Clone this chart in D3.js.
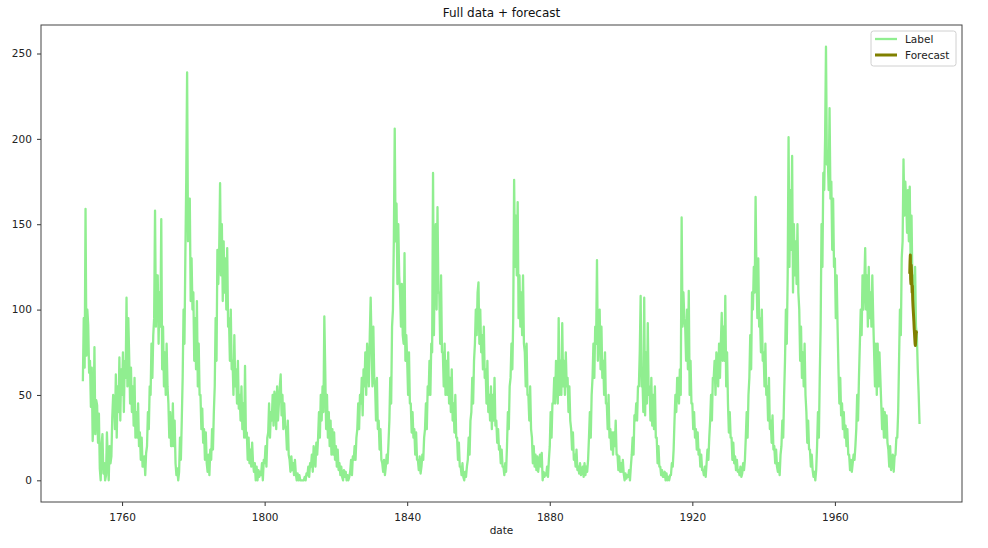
<!DOCTYPE html>
<html>
<head>
<meta charset="utf-8">
<script src="https://cdn.jsdelivr.net/npm/d3@7"></script>
<style>
  body { margin: 0; background: #fff; }
  svg { font-family: 'DejaVu Sans', sans-serif; }
</style>
</head>
<body>
<div id="chart"></div>
<script>
'use strict';

var startYear = 1749;
var perYear = 4;

var spots1749 = [
  58,95,66,159, 73,100,91,63, 70,43,66,23, 35,78,27,47, 44,22,39,7,
  0,21,27,4, 10,0,3,28, 12,0,20,10, 14,37,50,48, 30,62,25,55,
  40,72,35,65, 50,75,40,70, 60,107,55,95, 72,45,66,40, 55,32,60,25,
  40,25,45,20, 28,12,25,8, 8,14,3,16, 20,40,30,55, 50,80,60,85,
  95,158,90,120, 120,80,110,90, 153,65,90,55, 75,50,80,55, 45,25,40,20,
  20,45,20,35, 10,3,7,0, 5,25,12,35, 60,100,80,130, 175,239,140,165,
  165,105,130,100, 110,70,95,65, 105,55,80,50, 50,30,42,22, 30,12,28,10,
  5,15,3,18, 12,30,18,40, 55,95,70,135, 115,135,174,120, 150,105,140,110,
  130,100,136,90, 95,70,100,65, 70,50,85,55, 65,45,70,42, 50,35,55,30,
  45,25,67,25, 28,12,25,10, 18,8,22,10, 5,10,0,8, 0,6,2,5, 3,10,0,12
];

var spots1800 = [
  10,20,8,25, 28,45,25,40, 35,50,32,52, 48,30,55,35, 45,55,62,38,
  50,30,45,32, 30,18,35,15, 12,5,14,6, 10,3,12,4, 0,4,0,3,
  0,0,0,0, 0,2,0,4, 3,8,2,10, 8,15,5,20, 15,8,22,15,
  25,40,25,50, 35,55,40,96, 65,30,50,25, 40,20,35,15, 30,15,28,12,
  20,8,18,6, 10,3,8,2, 0,6,2,5, 0,3,0,2, 5,12,3,14,
  12,20,12,25, 30,45,30,50, 45,60,38,65, 55,75,50,80, 70,55,85,107,
  80,55,90,60, 55,35,60,30, 35,18,30,12, 10,5,12,3, 8,15,10,22,
  35,60,45,90, 100,140,206,140, 162,115,150,120, 110,90,115,85, 80,133,70,85,
  70,50,75,45, 45,28,40,25, 30,15,28,12, 12,6,14,4, 8,15,12,25,
  30,45,30,55, 50,70,50,80, 75,180,85,135, 150,100,160,110, 110,80,120,75
];

var spots1850 = [
  75,55,80,50, 70,50,75,45, 60,40,65,35, 45,28,50,25, 25,12,22,8,
  8,3,10,2, 0,5,2,8, 12,25,15,35, 40,60,45,70, 80,100,85,110,
  116,80,100,75, 85,65,90,60, 65,45,70,40, 50,35,55,30, 50,35,60,32,
  35,22,30,18, 20,10,18,8, 8,3,10,5, 20,40,30,55, 60,80,65,95,
  176,125,155,120, 163,95,120,90, 110,85,120,80, 75,55,80,50, 50,35,55,30,
  25,10,20,8, 15,6,14,5, 10,15,8,16, 0,5,2,4, 3,8,2,12,
  20,40,25,45, 45,60,45,70, 60,45,95,50, 70,50,92,55, 70,50,75,55,
  60,40,55,35, 30,18,28,12, 15,8,18,6, 8,4,10,3, 5,8,2,10,
  3,8,5,12, 25,40,25,50, 60,80,60,90, 80,129,70,95, 100,65,90,60,
  70,50,75,45, 45,30,50,25, 30,18,28,15, 28,20,35,15, 15,6,14,5
];

var spots1900 = [
  10,5,12,4, 0,4,1,3, 2,6,0,8, 15,25,15,38, 35,45,35,55,
  55,75,108,55, 60,40,107,38, 75,45,92,50, 55,35,60,32, 50,30,55,25,
  25,10,20,8, 8,3,6,2, 2,5,0,4, 0,2,0,3, 3,10,8,18,
  35,50,40,60, 60,45,65,50, 154,90,110,95, 90,70,100,65, 111,50,70,45,
  45,30,40,25, 30,18,28,15, 18,8,15,6, 6,3,8,2, 10,18,12,25,
  35,50,35,60, 60,70,50,75, 70,55,80,60, 80,98,70,90, 70,108,55,75,
  45,28,40,25, 25,12,22,10, 14,6,12,5, 6,3,8,2, 4,10,6,12,
  25,40,25,50, 60,85,65,110, 100,125,110,166, 120,95,130,90, 95,75,100,70,
  75,55,80,50, 55,35,60,30, 35,22,38,18, 20,10,18,8, 5,10,3,15,
  20,35,25,50, 70,100,80,120, 201,125,170,135, 190,110,150,120, 140,115,150,110
];

var spots1950 = [
  100,70,90,60, 75,55,80,50, 40,22,35,18, 18,8,15,6, 2,5,0,6,
  20,40,25,60, 90,150,125,180, 170,200,254,185, 190,170,218,165, 175,135,165,125,
  130,95,120,90, 65,45,60,38, 45,30,40,25, 32,20,30,15, 15,6,12,5,
  10,15,12,20, 30,50,35,60, 80,100,85,120, 100,115,136,100, 120,90,125,95,
  110,90,120,95, 75,55,80,50, 80,55,75,60, 45,30,42,25, 40,25,38,22,
  18,8,20,6, 10,15,5,14, 15,25,25,40, 70,100,85,130, 140,188,155,175,
  165,145,170,140, 172,125,155,115, 120,95,125,90, 85,65,51,33
];

// monthly forecast from January 1981
var forecastStart = 1981;
var forecastValues = [
  121,128,132,118,115,126,122,117,110,114,106,102,
  99,96,93,89,86,83,80,79,82,85,87,86
];

var xTicks = [1760, 1800, 1840, 1880, 1920, 1960];
var yTicks = [0, 50, 100, 150, 200, 250];
var seriesNames = ['Label', 'Forecast'];
var seriesColors = ['#90ee90', '#808000'];
var seriesWidths = [2.3, 3];

var width = 988;
var height = 548;
var margin = { top: 25, right: 26, bottom: 46, left: 41 };

var label = spots1749.concat(spots1800, spots1850, spots1900, spots1950)
  .map(function (v, i) { return { date: startYear + i / perYear, value: v }; });
var forecast = forecastValues
  .map(function (v, i) { return { date: forecastStart + i / 12, value: v }; });

var svg = d3.select('#chart').append('svg')
  .attr('width', width)
  .attr('height', height);

// matplotlib style 5% padding round the data
var xMin = d3.min(label, function (d) { return d.date; });
var xMax = d3.max(label, function (d) { return d.date; }) + 2 / 12;
var xPad = (xMax - xMin) * 0.05;
var yMax = d3.max(label, function (d) { return d.value; });
var yPad = yMax * 0.05;

var x = d3.scaleLinear()
  .domain([xMin - xPad, xMax + xPad])
  .range([margin.left, width - margin.right]);

var y = d3.scaleLinear()
  .domain([-yPad, yMax + yPad])
  .range([height - margin.bottom, margin.top]);

var line = d3.line()
  .x(function (d) { return x(d.date); })
  .y(function (d) { return y(d.value); });

var plot = svg.append('g');

plot.append('path')
  .datum(label)
  .attr('d', line)
  .attr('fill', 'none')
  .attr('stroke', seriesColors[0])
  .attr('stroke-width', seriesWidths[0])
  .attr('stroke-linejoin', 'round');

plot.append('path')
  .datum(forecast)
  .attr('d', line)
  .attr('fill', 'none')
  .attr('stroke', seriesColors[1])
  .attr('stroke-width', seriesWidths[1])
  .attr('stroke-linejoin', 'round');

var xAxis = svg.append('g')
  .attr('transform', 'translate(0,' + (height - margin.bottom) + ')')
  .call(d3.axisBottom(x).tickValues(xTicks).tickFormat(d3.format('d')).tickSize(4).tickSizeOuter(0));

var yAxis = svg.append('g')
  .attr('transform', 'translate(' + margin.left + ',0)')
  .call(d3.axisLeft(y).tickValues(yTicks).tickSize(4).tickSizeOuter(0));

[xAxis, yAxis].forEach(function (g) {
  g.select('.domain').remove();
  g.selectAll('.tick line').attr('stroke', '#333');
  g.selectAll('.tick text')
    .attr('fill', '#222')
    .attr('font-size', 10.5)
    .attr('font-family', 'DejaVu Sans, sans-serif');
});
xAxis.selectAll('.tick text').attr('dy', '1.1em');
yAxis.selectAll('.tick text').attr('dx', '-0.2em');

// frame
svg.append('rect')
  .attr('x', margin.left)
  .attr('y', margin.top)
  .attr('width', width - margin.left - margin.right)
  .attr('height', height - margin.top - margin.bottom)
  .attr('fill', 'none')
  .attr('stroke', '#444')
  .attr('stroke-width', 1);

svg.append('text')
  .text('Full data + forecast')
  .attr('x', (margin.left + width - margin.right) / 2)
  .attr('y', 17)
  .attr('text-anchor', 'middle')
  .attr('font-size', 12)
  .attr('fill', '#111');

svg.append('text')
  .text('date')
  .attr('x', (margin.left + width - margin.right) / 2)
  .attr('y', 534)
  .attr('text-anchor', 'middle')
  .attr('font-size', 10.5)
  .attr('fill', '#222');

// legend
var legend = svg.append('g')
  .attr('transform', 'translate(871,31)');

legend.append('rect')
  .attr('width', 85)
  .attr('height', 35)
  .attr('rx', 2.5)
  .attr('fill', '#fff')
  .attr('fill-opacity', 0.8)
  .attr('stroke', '#d0d0d0');

seriesNames.forEach(function (name, i) {
  var row = legend.append('g')
    .attr('transform', 'translate(0,' + (8 + i * 16) + ')');
  row.append('line')
    .attr('x1', 4)
    .attr('x2', 26)
    .attr('stroke', seriesColors[i])
    .attr('stroke-width', seriesWidths[i]);
  row.append('text')
    .text(name)
    .attr('x', 34)
    .attr('y', 4)
    .attr('font-size', 10.5)
    .attr('fill', '#222');
});
</script>
</body>
</html>
